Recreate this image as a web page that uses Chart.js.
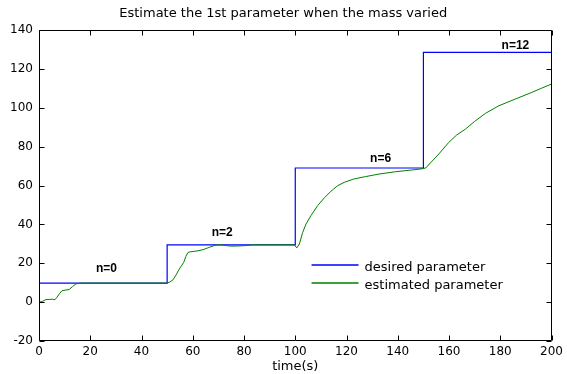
<!DOCTYPE html>
<html><head><meta charset="utf-8">
<script src="https://cdn.jsdelivr.net/npm/chart.js@4.4.0/dist/chart.umd.min.js"></script>
<style>html,body{margin:0;padding:0;background:#fff}</style>
</head><body>
<canvas id="c" width="567" height="374"></canvas>
<script>
// ---- data ----
const desiredTime  = [0, 50, 100, 150, 200];
const desiredValue = [9.8, 29.5, 69, 128.5, 128.5];

const estTime  = [0, 0.2, 1.4, 2.7, 4, 5.2, 6.2, 7, 7.9, 9, 10.5, 11.8, 13.1, 14.4, 15.7, 17, 50,
                  51, 52.3, 53.5, 54.5, 55.5, 56.5, 57.3, 58.1, 59, 60.4, 62, 64, 66.5, 68, 69.1, 71, 73, 75, 78, 81, 83, 99.6,
                  100.6, 101.6, 102.9, 104.2, 106.1, 108.7, 111.3, 113.9, 116.5, 119.1, 122.7, 127.5, 132.7, 139.2, 145.6, 149.5,
                  150.9, 153, 156, 159.9, 163, 166.4, 170, 174.2, 179.4, 185.9, 192.3, 196, 200];
const estValue = [5, 0, 0.4, 1.3, 1.4, 1.5, 1.2, 2.5, 4.2, 5.9, 6.2, 6.5, 8, 9.4, 9.7, 9.8, 9.8,
                  10.3, 11.5, 14, 16.5, 18.5, 20.5, 23.5, 25.5, 25.9, 26.1, 26.4, 27, 28.2, 28.9, 29.4, 29.5, 29.1, 28.8, 28.9, 29.1, 29.5, 29.5,
                  27.9, 29.9, 35.9, 40.2, 44.5, 49.6, 53.6, 57, 59.9, 61.6, 63.3, 64.6, 65.9, 67.1, 68, 68.6,
                  69, 72, 76.2, 82.2, 86, 89, 93, 97.1, 101, 104.5, 107.9, 110, 112.2];

const xTicks = [0, 20, 40, 60, 80, 100, 120, 140, 160, 180, 200];
const yTicks = [-20, 0, 20, 40, 60, 80, 100, 120, 140];

const noteText = ['n=0', 'n=2', 'n=6', 'n=12'];
const noteX    = [26.3, 71.5, 133.3, 185.9];
const noteY    = [17, 35.9, 73.6, 131.9];

const seriesNames = ['desired parameter', 'estimated parameter'];
const seriesColors = ['#0000ff', '#008000'];

// ---- build ----
const desiredPts = desiredTime.map((t, i) => ({x: t, y: desiredValue[i]}));
const estPts = estTime.map((t, i) => ({x: t, y: estValue[i]}));

const frameTicks = {
  id: 'frameTicks',
  afterDraw(chart) {
    const ctx = chart.ctx;
    const a = chart.chartArea;
    const xs = chart.scales.x, ys = chart.scales.y;
    const L = Math.round(a.left) + 0.5, R = Math.round(a.right) - 0.5;
    const T = Math.round(a.top) + 0.5, B = Math.round(a.bottom) - 0.5;
    ctx.save();
    ctx.strokeStyle = '#000';
    ctx.lineWidth = 1;
    ctx.beginPath();
    ctx.rect(L, T, R - L, B - T);
    const tl = 5;
    xTicks.forEach(v => {
      const p = Math.round(xs.getPixelForValue(v)) + 0.5;
      ctx.moveTo(p, B); ctx.lineTo(p, B - tl);
      ctx.moveTo(p, T); ctx.lineTo(p, T + tl);
    });
    yTicks.forEach(v => {
      const p = Math.round(ys.getPixelForValue(v)) + 0.5;
      ctx.moveTo(L, p); ctx.lineTo(L + tl, p);
      ctx.moveTo(R, p); ctx.lineTo(R - tl, p);
    });
    ctx.stroke();

    // annotations
    ctx.fillStyle = '#000';
    ctx.font = 'bold 12px "Liberation Sans", Arial, sans-serif';
    ctx.textAlign = 'center';
    ctx.textBaseline = 'middle';
    noteText.forEach((s, i) => {
      ctx.fillText(s, xs.getPixelForValue(noteX[i]), ys.getPixelForValue(noteY[i]));
    });

    // legend (inside plot, lower right)
    const lx = a.right - 240, ly = a.bottom - 76, rowH = 18;
    ctx.font = '13px "DejaVu Sans", sans-serif';
    ctx.textAlign = 'left';
    seriesNames.forEach((name, i) => {
      const y = Math.round(ly + i * rowH);
      ctx.strokeStyle = seriesColors[i];
      ctx.lineWidth = 1.3;
      ctx.beginPath();
      ctx.moveTo(lx, y); ctx.lineTo(lx + 47, y);
      ctx.stroke();
      ctx.fillStyle = '#000';
      ctx.fillText(name, lx + 53, y + 2.5);
    });
    ctx.restore();
  }
};

new Chart(document.getElementById('c'), {
  type: 'line',
  data: {
    datasets: [
      {label: seriesNames[0], data: desiredPts, borderColor: seriesColors[0], borderWidth: 1.2,
       stepped: 'before', pointRadius: 0, fill: false, order: 1},
      {label: seriesNames[1], data: estPts, borderColor: seriesColors[1], borderWidth: 1,
       tension: 0, pointRadius: 0, fill: false, order: 0}
    ]
  },
  options: {
    responsive: false,
    animation: false,
    devicePixelRatio: 1,
    layout: {padding: {left: 0, right: 0.5, top: 0, bottom: 0}},
    plugins: {
      legend: {display: false},
      tooltip: {enabled: false},
      title: {
        display: true,
        text: 'Estimate the 1st parameter when the mass varied',
        color: '#000',
        font: {family: '"DejaVu Sans", sans-serif', size: 13, weight: 'normal'},
        padding: {top: 6, bottom: 8.4}
      }
    },
    scales: {
      x: {
        type: 'linear', min: 0, max: 200, position: 'bottom',
        afterBuildTicks: s => { s.ticks = xTicks.map(v => ({value: v})); },
        ticks: {color: '#000', font: {family: '"DejaVu Sans", sans-serif', size: 12}, padding: 4, maxRotation: 0, autoSkip: false},
        grid: {display: false, drawTicks: false},
        border: {display: false},
        title: {display: true, text: 'time(s)', color: '#000',
                font: {family: '"DejaVu Sans", sans-serif', size: 13}, padding: {top: 0, bottom: 0}},
        afterFit: s => { s.height = 33; }
      },
      y: {
        type: 'linear', min: -20, max: 140,
        afterBuildTicks: s => { s.ticks = yTicks.map(v => ({value: v})); },
        ticks: {color: '#000', font: {family: '"DejaVu Sans", sans-serif', size: 12}, padding: 6},
        grid: {display: false, drawTicks: false},
        border: {display: false},
        afterFit: s => { s.width = 39; }
      }
    }
  },
  plugins: [frameTicks]
});
</script>
</body></html>
